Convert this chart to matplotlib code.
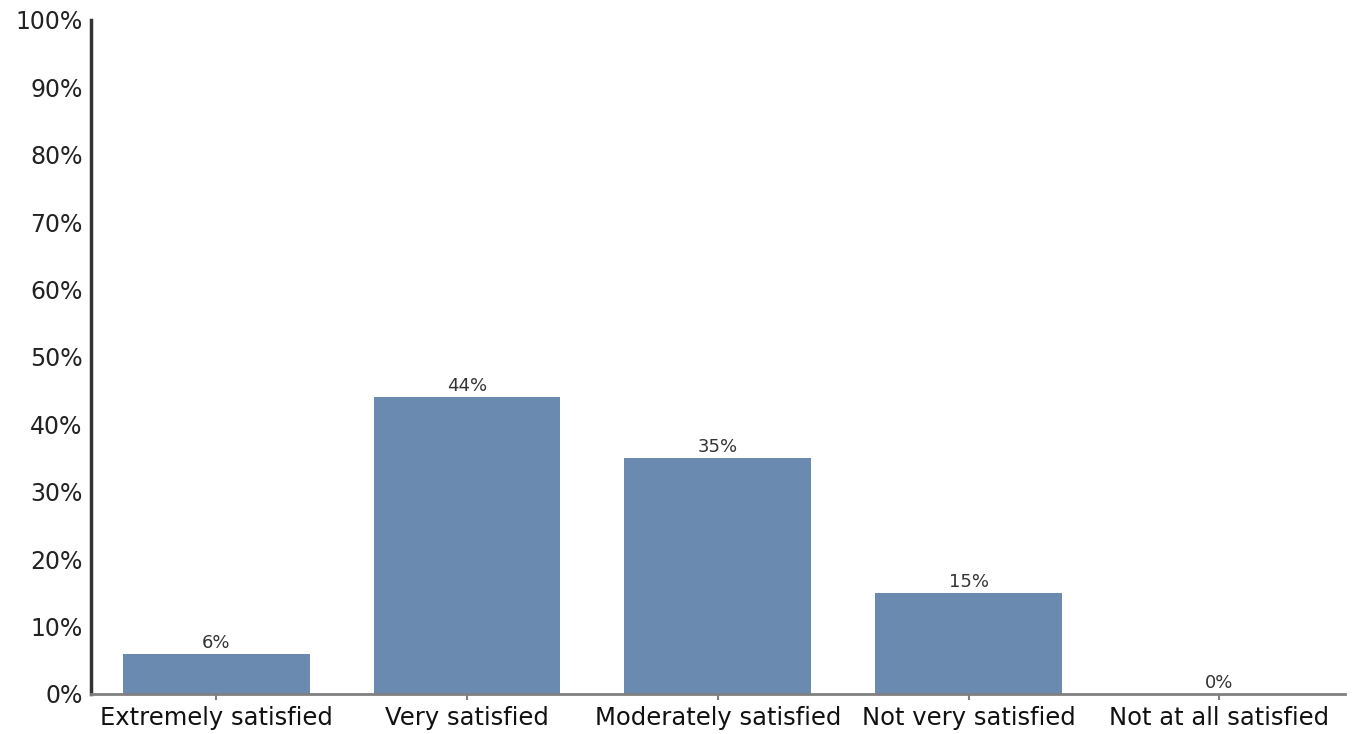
from matplotlib import pyplot as plt
from matplotlib.ticker import FuncFormatter

# 满意度调查结果
categories = ["Extremely satisfied", "Very satisfied", "Moderately satisfied",
              "Not very satisfied", "Not at all satisfied"]
values = [6, 44, 35, 15, 0]

plt.rcParams['font.family'] = ['DejaVu Sans']

fig = plt.figure(figsize=(13.57, 7.34), dpi=100)
ax = fig.add_axes([0.067, 0.0545, 0.924, 0.9185])

x = range(len(categories))
ax.bar(x, values, width=0.745, color="#6a8ab0")

# 柱顶数值
for xi, v in zip(x, values):
    ax.text(xi, v + 0.3, "%d%%" % v, ha="center", va="bottom",
            fontsize=13, color="#333333")

ax.set_xlim(-0.5, len(categories) - 0.5)
ax.set_ylim(0, 100)
ax.set_yticks(range(0, 101, 10))
ax.yaxis.set_major_formatter(FuncFormatter(lambda v, p: "%d%%" % v))
ax.tick_params(axis="y", length=0, labelsize=17, pad=6, colors="#222222")

ax.set_xticks(list(x))
ax.set_xticklabels(categories)
ax.tick_params(axis="x", length=4, width=1.5, color="#808080",
               labelsize=17.5, pad=5, labelcolor="#111111")

for s in ["top", "right"]:
    ax.spines[s].set_visible(False)
ax.spines["left"].set_color("#333333")
ax.spines["left"].set_linewidth(2.5)
ax.spines["bottom"].set_color("#808080")
ax.spines["bottom"].set_linewidth(2)

fig.savefig("out.png", dpi=100)
